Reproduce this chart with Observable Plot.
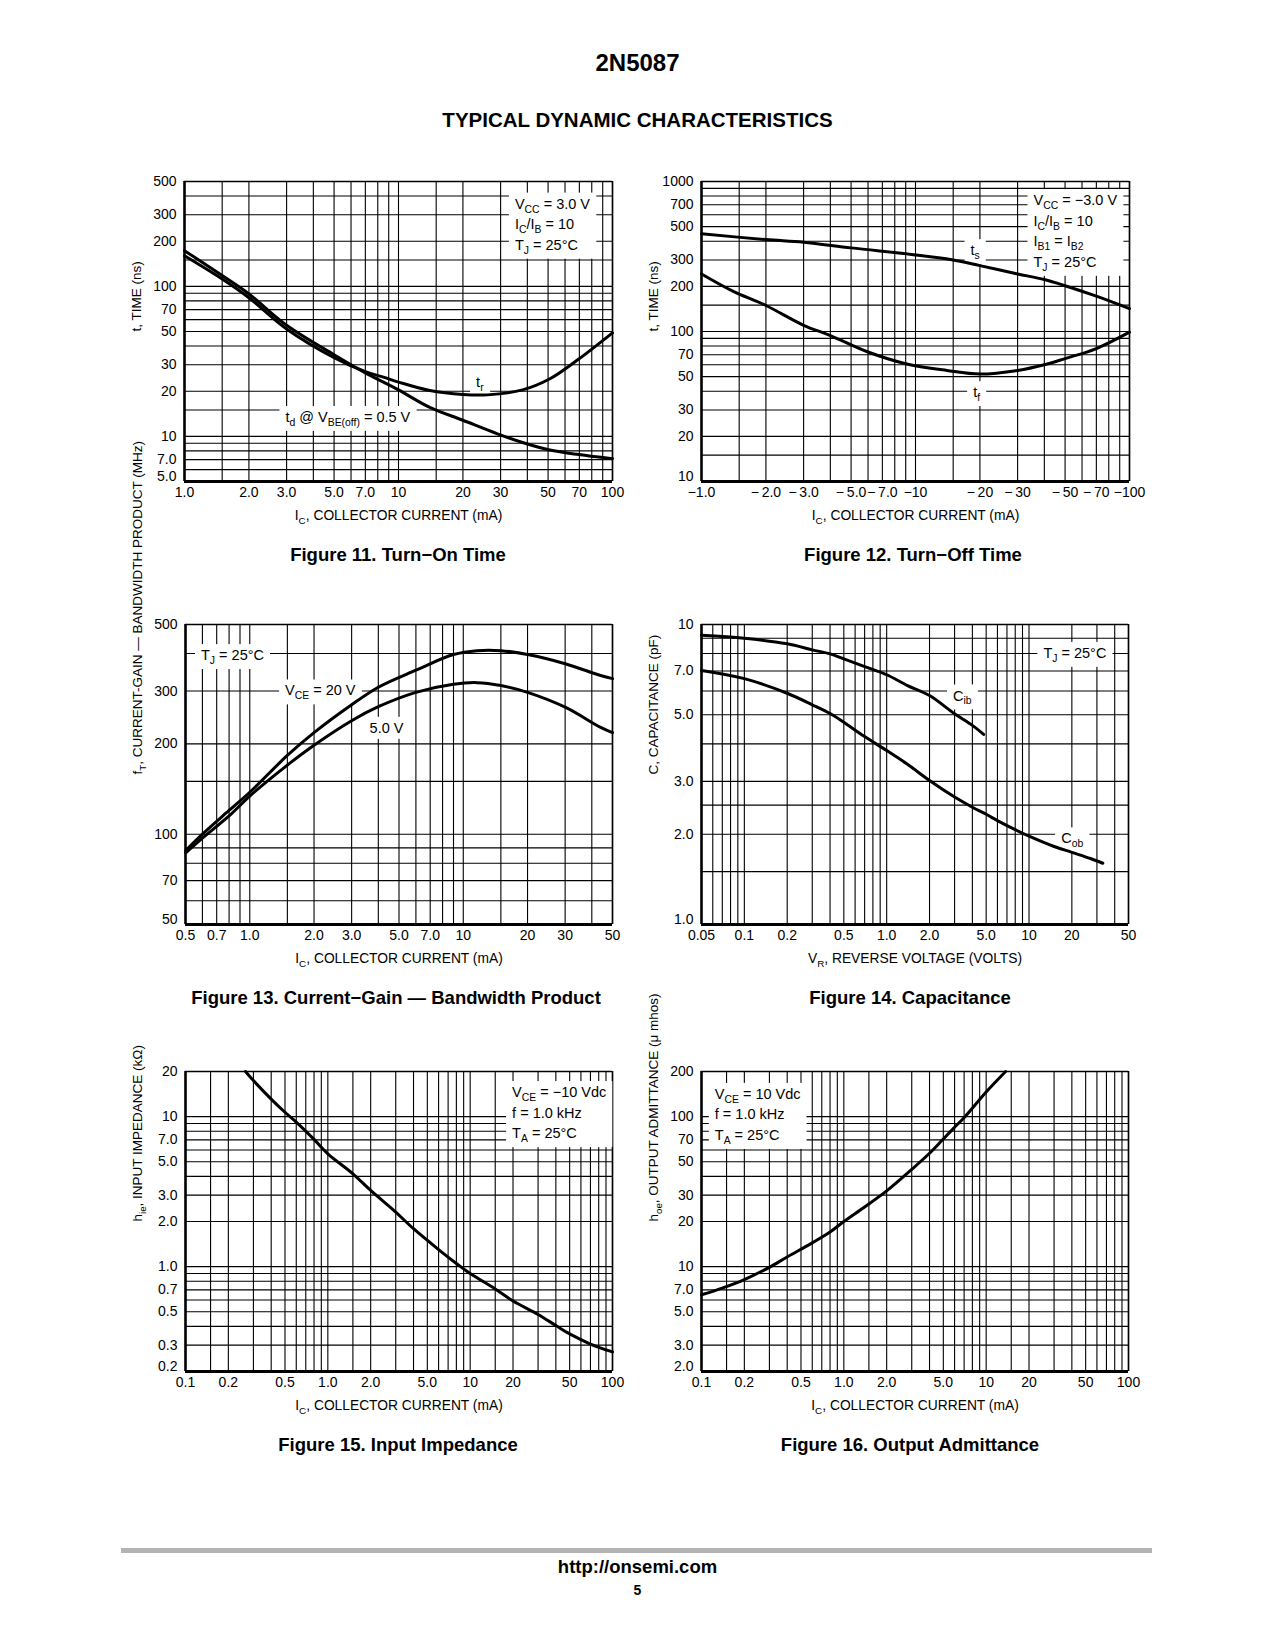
<!DOCTYPE html>
<html><head><meta charset="utf-8">
<script src="https://cdn.jsdelivr.net/npm/d3@7"></script>
<script src="https://cdn.jsdelivr.net/npm/@observablehq/plot@0.6"></script>
<style>
body{margin:0;background:#fff;}
#page{position:relative;width:1275px;height:1650px;font-family:"Liberation Sans",Arial,sans-serif;color:#000;overflow:hidden}
.h{position:absolute;left:0;width:1275px;text-align:center;font-weight:bold;line-height:1}
.cap{position:absolute;font-weight:bold;font-size:18.5px;line-height:1;transform:translate(-50%,-50%);white-space:nowrap}
</style></head>
<body><div id="page">
<div class="h" style="top:51px;font-size:24px">2N5087</div>
<div class="h" style="top:110px;font-size:20.5px">TYPICAL DYNAMIC CHARACTERISTICS</div>
<div class="cap" style="left:398px;top:555px">Figure 11. Turn−On Time</div>
<div class="cap" style="left:913px;top:555px">Figure 12. Turn−Off Time</div>
<div class="cap" style="left:396px;top:998px">Figure 13. Current−Gain — Bandwidth Product</div>
<div class="cap" style="left:910px;top:998px">Figure 14. Capacitance</div>
<div class="cap" style="left:398px;top:1445px">Figure 15. Input Impedance</div>
<div class="cap" style="left:910px;top:1445px">Figure 16. Output Admittance</div>
<div style="position:absolute;left:121px;width:1031px;top:1548px;height:5px;background:#b3b3b3"></div>
<div class="h" style="top:1558px;font-size:18.5px">http://onsemi.com</div>
<div class="h" style="top:1583px;font-size:14px">5</div>
</div>
<script>
// ---------------- Figure 11: Turn-On Time ----------------
const f11GridX = [1,1.5,2,3,4,5,6,7,8,9,10,15,20,30,40,50,60,70,80,90,100];
const f11GridY = [5,6,7,8,9,10,15,20,30,40,50,60,70,80,90,100,150,200,300,400,500];
const f11XTicks = [1,2,3,5,7,10,20,30,50,70,100];
const f11XLabels = ["1.0","2.0","3.0","5.0","7.0","10","20","30","50","70","100"];
const f11YTicks = [5,7,10,20,30,50,70,100,200,300,500];
const f11YLabels = ["5.0","7.0","10","20","30","50","70","100","200","300","500"];
const f11TrIc = [1,1.5,2,3,5,7,8.5,10,14,20,26,38,51,68,100];
const f11Tr   = [160,112,84,52,33.5,27,24.8,23,20.2,19,18.9,20.4,24.2,32,49];
const f11TdIc = [1,1.5,2,3,5,7,10,14,20,29,38,51,68,100];
const f11Td   = [173,118,89,55,35,26.5,20.4,15.6,12.8,10.4,9.1,8.1,7.6,7.1];

// ---------------- Figure 12: Turn-Off Time ----------------
const f12GridX = [1,1.5,2,3,4,5,6,7,8,9,10,15,20,30,40,50,60,70,80,90,100];
const f12GridY = [10,15,20,30,40,50,60,70,80,90,100,150,200,300,400,500,600,700,800,900,1000];
const f12XTicks = [1,2,3,5,7,10,20,30,50,70,100];
const f12XLabels = ["−1.0","−\u20092.0","−\u20093.0","−\u20095.0","−\u20097.0","−10","−\u200920","−\u200930","−\u200950","−\u200970","−100"];
const f12YTicks = [10,20,30,50,70,100,200,300,500,700,1000];
const f12YLabels = ["10","20","30","50","70","100","200","300","500","700","1000"];
const f12TsIc = [-1,-2,-3,-5,-10,-15,-20,-30,-40,-50,-70,-100];
const f12Ts   = [448,410,394,361,324,300,275,242,222,202,172,142];
const f12TfIc = [-1,-1.4,-2,-3,-4,-6,-9,-14,-20,-30,-40,-50,-70,-100];
const f12Tf   = [242,186,149,110,94,73,61,55,52,55,60,66,77,99];

// ---------------- Figure 13: Current-Gain Bandwidth Product ----------------
const f13GridX = [0.5,0.6,0.7,0.8,0.9,1,1.5,2,3,4,5,6,7,8,9,10,15,20,30,40,50];
const f13GridY = [50,60,70,80,90,100,150,200,300,400,500];
const f13XTicks = [0.5,0.7,1,2,3,5,7,10,20,30,50];
const f13XLabels = ["0.5","0.7","1.0","2.0","3.0","5.0","7.0","10","20","30","50"];
const f13YTicks = [50,70,100,200,300,500];
const f13YLabels = ["50","70","100","200","300","500"];
const f13Ic    = [0.5,0.6,0.8,1.0,1.5,2,3,4,6,9,11.6,15,20,30,44,50];
const f13Vce20 = [88,100,120,138,183,218,270,309,352,397,409,409,397,370,338,330];
const f13Vce5  = [86.5,97,115,134,170,198,239,266,297,316,320,313,297,265,227,218];

// ---------------- Figure 14: Capacitance ----------------
const f14GridX = [0.05,0.06,0.07,0.08,0.09,0.1,0.2,0.3,0.4,0.5,0.6,0.7,0.8,0.9,1,2,3,4,5,6,7,8,9,10,20,30,40,50];
const f14GridY = [1,1.5,2,2.5,3,4,5,6,7,8,9,10];
const f14XTicks = [0.05,0.1,0.2,0.5,1,2,5,10,20,50];
const f14XLabels = ["0.05","0.1","0.2","0.5","1.0","2.0","5.0","10","20","50"];
const f14YTicks = [1,2,3,5,7,10];
const f14YLabels = ["1.0","2.0","3.0","5.0","7.0","10"];
const f14CibVr = [0.05,0.1,0.2,0.3,0.4,0.5,0.7,1.0,1.4,2.0,3.0,4.0,4.8];
const f14Cib   = [9.2,9.0,8.62,8.23,7.98,7.68,7.24,6.8,6.26,5.8,5.04,4.61,4.3];
const f14CobVr = [0.05,0.1,0.2,0.3,0.4,0.5,0.7,1.0,1.4,2.0,3.0,4.0,5.0,6.0,8.0,10,15,20,27,33];
const f14Cob   = [7.03,6.6,5.9,5.4,5.05,4.72,4.23,3.8,3.42,3.02,2.66,2.46,2.33,2.22,2.07,1.97,1.82,1.74,1.66,1.6];

// ---------------- Figure 15: Input Impedance ----------------
const f15GridX = [0.1,0.15,0.2,0.3,0.4,0.5,0.6,0.7,0.8,0.9,1,1.5,2,3,4,5,6,7,8,9,10,15,20,30,40,50,60,70,80,90,100];
const f15GridY = [0.2,0.3,0.4,0.5,0.6,0.7,0.8,0.9,1,2,3,4,5,6,7,8,9,10,20];
const f15XTicks = [0.1,0.2,0.5,1,2,5,10,20,50,100];
const f15XLabels = ["0.1","0.2","0.5","1.0","2.0","5.0","10","20","50","100"];
const f15YTicks = [0.2,0.3,0.5,0.7,1,2,3,5,7,10,20];
const f15YLabels = ["0.2","0.3","0.5","0.7","1.0","2.0","3.0","5.0","7.0","10","20"];
const f15Ic  = [0.264,0.3,0.4,0.5,0.6,0.8,1.0,1.5,2.0,3.0,4.0,6.0,8.0,10,15,20,30,40,50,70,100];
const f15Hie = [20,17.4,13.1,10.7,9.2,7.05,5.65,4.16,3.22,2.31,1.79,1.3,1.05,0.9,0.71,0.59,0.48,0.405,0.356,0.305,0.27];

// ---------------- Figure 16: Output Admittance ----------------
const f16GridX = [0.1,0.15,0.2,0.3,0.4,0.5,0.6,0.7,0.8,0.9,1,1.5,2,3,4,5,6,7,8,9,10,15,20,30,40,50,60,70,80,90,100];
const f16GridY = [2,3,4,5,6,7,8,9,10,20,30,40,50,60,70,80,90,100,200];
const f16XTicks = [0.1,0.2,0.5,1,2,5,10,20,50,100];
const f16XLabels = ["0.1","0.2","0.5","1.0","2.0","5.0","10","20","50","100"];
const f16YTicks = [2,3,5,7,10,20,30,50,70,100,200];
const f16YLabels = ["2.0","3.0","5.0","7.0","10","20","30","50","70","100","200"];
const f16Ic  = [0.1,0.14,0.2,0.3,0.4,0.6,0.8,1.0,1.4,2.0,3.0,4.0,5.0,6.0,7.1,10,13.7];
const f16Hoe = [6.5,7.2,8.2,9.9,11.6,14.4,17,20,25,32,44.5,57,71,85,100,146,200];

// ---------------- builder ----------------
const svgNS = "http://www.w3.org/2000/svg";
const FONT = '"Liberation Sans",Arial,sans-serif';
const pts = (xs, ys) => xs.map((x, i) => ({x, y: ys[i]}));
const IC_TITLE = "I_{C}, COLLECTOR CURRENT (mA)";
const ANNO = "#010101";

const charts = [
  {box:[184,181,612,481], xDomain:[1,100], yDomain:[5,500], gridX:f11GridX, gridY:f11GridY,
   xTicks:f11XTicks, xLabels:f11XLabels, yTicks:f11YTicks, yLabels:f11YLabels,
   curves:[pts(f11TrIc,f11Tr), pts(f11TdIc,f11Td)], xTitle:IC_TITLE, yTitle:"t, TIME (ns)",
   notes:[{x:35,y:266,t:"V_{CC} = 3.0 V\nI_{C}/I_{B} = 10\nT_{J} = 25°C",a:"start"},
          {x:24,y:23.5,t:"t_{r}"},{x:5.8,y:13.8,t:"t_{d} @ V_{BE(off)} = 0.5 V"}]},
  {box:[701,181,1129,481], xDomain:[1,100], yDomain:[10,1000], gridX:f12GridX, gridY:f12GridY, absX:true,
   xTicks:f12XTicks, xLabels:f12XLabels, yTicks:f12YTicks, yLabels:f12YLabels,
   curves:[pts(f12TsIc,f12Ts), pts(f12TfIc,f12Tf)], xTitle:IC_TITLE, yTitle:"t, TIME (ns)",
   notes:[{x:-35.6,y:479,t:"V_{CC} = −3.0 V\nI_{C}/I_{B} = 10\nI_{B1} = I_{B2}\nT_{J} = 25°C",a:"start"},
          {x:-19,y:357,t:"t_{s}"},{x:-19.3,y:40.4,t:"t_{f}"}]},
  {box:[185,624,612,924], xDomain:[0.5,50], yDomain:[50,500], gridX:f13GridX, gridY:f13GridY,
   xTicks:f13XTicks, xLabels:f13XLabels, yTicks:f13YTicks, yLabels:f13YLabels,
   curves:[pts(f13Ic,f13Vce20), pts(f13Ic,f13Vce5)], xTitle:IC_TITLE,
   yTitle:"f_{T}, CURRENT-GAIN — BANDWIDTH PRODUCT (MHz)",
   notes:[{x:0.83,y:400,t:"T_{J} = 25°C"},{x:2.14,y:305,t:"V_{CE} = 20 V"},{x:4.37,y:229,t:"5.0 V"}]},
  {box:[701,624,1128,924], xDomain:[0.05,50], yDomain:[1,10], gridX:f14GridX, gridY:f14GridY,
   xTicks:f14XTicks, xLabels:f14XLabels, yTicks:f14YTicks, yLabels:f14YLabels,
   curves:[pts(f14CibVr,f14Cib), pts(f14CobVr,f14Cob)], xTitle:"V_{R}, REVERSE VOLTAGE (VOLTS)",
   yTitle:"C, CAPACITANCE (pF)",
   notes:[{x:21,y:8.14,t:"T_{J} = 25°C"},{x:3.4,y:5.87,t:"C_{ib}"},{x:20.1,y:1.96,t:"C_{ob}"}]},
  {box:[185,1071,612,1371], xDomain:[0.1,100], yDomain:[0.2,20], gridX:f15GridX, gridY:f15GridY,
   xTicks:f15XTicks, xLabels:f15XLabels, yTicks:f15YTicks, yLabels:f15YLabels,
   curves:[pts(f15Ic,f15Hie)], xTitle:IC_TITLE, yTitle:"h_{ie}, INPUT IMPEDANCE (kΩ)",
   notes:[{x:19.7,y:10.9,t:"V_{CE} = −10 Vdc\nf = 1.0 kHz\nT_{A} = 25°C",a:"start"}]},
  {box:[701,1071,1128,1371], xDomain:[0.1,100], yDomain:[2,200], gridX:f16GridX, gridY:f16GridY,
   xTicks:f16XTicks, xLabels:f16XLabels, yTicks:f16YTicks, yLabels:f16YLabels,
   curves:[pts(f16Ic,f16Hoe)], xTitle:IC_TITLE, yTitle:"h_{oe}, OUTPUT ADMITTANCE (μ mhos)",
   notes:[{x:0.124,y:106,t:"V_{CE} = 10 Vdc\nf = 1.0 kHz\nT_{A} = 25°C",a:"start"}]}
];

function lookup(ticks, labels) {
  return d => {
    const i = ticks.findIndex(v => Math.abs(v / d - 1) < 1e-6);
    return i >= 0 ? labels[i] : "";
  };
}

function makeChart(c) {
  const mL = 80, mR = 35, mT = 20, mB = 60;
  const W = c.box[2] - c.box[0], H = c.box[3] - c.box[1];
  const fx = lookup(c.xTicks, c.xLabels), fy = lookup(c.yTicks, c.yLabels);
  const xAcc = c.absX ? (d => Math.abs(d.x)) : (d => d.x);
  const [x0, x1] = c.xDomain, [y0, y1] = c.yDomain;
  const TK = 14;
  const marks = [
    Plot.ruleX(c.gridX, {stroke: "#000", strokeWidth: 1.1}),
    Plot.ruleY(c.gridY, {stroke: "#000", strokeWidth: 1.1}),
    Plot.ruleX([x1], {stroke: "#000", strokeWidth: 1.6}),
    Plot.ruleY([y1], {stroke: "#000", strokeWidth: 1.6}),
    ...c.notes.map(n => Plot.text([n], {x: xAcc, y: d => d.y, text: d => d.t,
        textAnchor: n.a || "middle", lineHeight: 1.42, fontSize: 14.5, fill: ANNO,
        ariaDescription: "anno"})),
    ...c.curves.map(cv => Plot.line(cv, {x: xAcc, y: d => d.y, curve: "catmull-rom",
        stroke: "#000", strokeWidth: 3})),
    Plot.ruleX([x0], {stroke: "#000", strokeWidth: 2.6}),
    Plot.ruleY([y0], {stroke: "#000", strokeWidth: 3}),
    // tick labels
    Plot.text(c.xTicks, {x: d => d, text: fx, frameAnchor: "bottom", lineAnchor: "top", dy: 6, fontSize: TK, fill: "#000"}),
    Plot.text(c.yTicks.filter(v => v !== y0), {y: d => d, text: fy, frameAnchor: "left", textAnchor: "end", dx: -8, fontSize: TK, fill: "#000"}),
    Plot.text([y0], {y: d => d, text: fy, frameAnchor: "left", textAnchor: "end", dx: -8, dy: -5, fontSize: TK, fill: "#000"}),
    // axis titles
    Plot.text([c.xTitle], {text: d => d, frameAnchor: "bottom", dy: 38, fontSize: 13.8, fill: "#000"}),
    Plot.text([c.yTitle], {text: d => d, frameAnchor: "left", rotate: -90, dx: -48, fontSize: 13.5, fill: "#000"})
  ];
  const svg = Plot.plot({
    width: mL + W + mR, height: mT + H + mB,
    marginLeft: mL, marginRight: mR, marginTop: mT, marginBottom: mB,
    x: {type: "log", domain: c.xDomain, axis: null},
    y: {type: "log", domain: c.yDomain, axis: null},
    style: {fontFamily: FONT, fontSize: "14px", color: "#000", background: "transparent", overflow: "visible"},
    marks
  });
  svg.style.position = "absolute";
  svg.style.left = (c.box[0] - mL) + "px";
  svg.style.top = (c.box[1] - mT) + "px";
  svg.style.maxWidth = "none";
  document.getElementById("page").appendChild(svg);
  return svg;
}

function subify(el) {
  const s = el.textContent;
  if (s.indexOf("_{") < 0) return;
  const fs = parseFloat(getComputedStyle(el).fontSize) || 14;
  while (el.firstChild) el.removeChild(el.firstChild);
  const re = /_\{([^}]*)\}/g;
  let last = 0, m;
  while ((m = re.exec(s))) {
    if (m.index > last) el.appendChild(document.createTextNode(s.slice(last, m.index)));
    const t = document.createElementNS(svgNS, "tspan");
    t.setAttribute("style", `font-size:${(fs * 0.72).toFixed(1)}px;baseline-shift:-${(fs * 0.27).toFixed(1)}px`);
    t.textContent = m[1];
    el.appendChild(t);
    last = re.lastIndex;
  }
  if (last < s.length) el.appendChild(document.createTextNode(s.slice(last)));
}

charts.forEach(c => {
  const svg = makeChart(c);
  svg.querySelectorAll("text").forEach(tx => {
    const lines = tx.querySelectorAll(":scope > tspan");
    if (lines.length) lines.forEach(subify); else subify(tx);
  });
  const annoTexts = new Set([
    ...svg.querySelectorAll('g[aria-description="anno"] text'),
    ...svg.querySelectorAll(`g[fill="${ANNO}"] text`),
    ...[...svg.querySelectorAll("text")].filter(t => t.getAttribute("fill") === ANNO)
  ]);
  annoTexts.forEach(tx => {
    const bb = tx.getBBox();
    const r = document.createElementNS(svgNS, "rect");
    r.setAttribute("x", bb.x - 6);
    r.setAttribute("y", bb.y - 3);
    r.setAttribute("width", bb.width + 12);
    r.setAttribute("height", bb.height + 6);
    r.setAttribute("fill", "#fff");
    r.setAttribute("stroke", "none");
    const tr = tx.getAttribute("transform");
    if (tr) r.setAttribute("transform", tr);
    tx.parentNode.insertBefore(r, tx);
  });
});
</script>
</body></html>
